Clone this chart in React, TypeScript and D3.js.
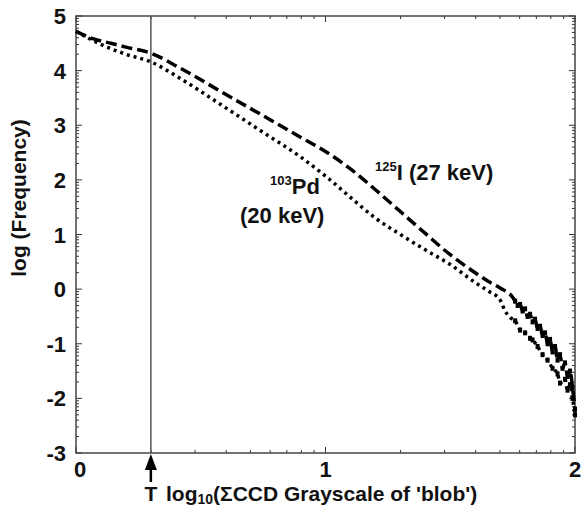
import React from "react";
import * as d3 from "d3";

const iodineX = [0, 0.07, 0.14, 0.2, 0.3, 0.42, 0.58, 0.74, 0.9, 1.0, 1.1, 1.2, 1.3, 1.4, 1.5, 1.6, 1.65, 1.7, 1.75,
  1.76, 1.77, 1.78, 1.79, 1.8, 1.81, 1.82, 1.83, 1.84, 1.85, 1.86, 1.87, 1.88, 1.89, 1.9, 1.91, 1.92, 1.93, 1.94, 1.95, 1.96, 1.97, 1.98, 1.99, 2.0];
const iodineY = [4.72, 4.58, 4.5, 4.43, 4.32, 4.04, 3.62, 3.2, 2.78, 2.52, 2.2, 1.82, 1.42, 1.02, 0.63, 0.3, 0.15, 0.02, -0.15,
  -0.22, -0.3, -0.28, -0.4, -0.36, -0.5, -0.46, -0.6, -0.55, -0.72, -0.68, -0.85, -0.8, -1.0, -0.92, -1.15, -1.05, -1.3, -1.2, -1.45, -1.35, -1.6, -1.5, -1.8, -2.2];

const palladiumX = [0, 0.1, 0.2, 0.3, 0.42, 0.58, 0.74, 0.9, 1.0, 1.1, 1.2, 1.3, 1.4, 1.5, 1.6, 1.65, 1.7,
  1.72, 1.74, 1.76, 1.78, 1.8, 1.82, 1.83, 1.85, 1.87, 1.89, 1.91, 1.93, 1.94, 1.96, 1.97, 1.98, 1.99, 2.0];
const palladiumY = [4.72, 4.48, 4.3, 4.16, 3.85, 3.38, 2.9, 2.42, 2.07, 1.68, 1.3, 1.0, 0.72, 0.45, 0.12, -0.03, -0.2,
  -0.4, -0.52, -0.58, -0.75, -0.8, -0.9, -0.93, -1.05, -1.2, -1.3, -1.45, -1.55, -1.72, -1.65, -1.85, -1.75, -2.0, -2.3];

const xMajor = [0, 1, 2];
const yMajor = [5, 4, 3, 2, 1, 0, -1, -2, -3];
const thresholdX = 0.3;
const tailStart = 1.76;

const W = 584, H = 506;
const left = 76, right = 575, top = 16, bottom = 453;
const FONT = "'Liberation Sans', Arial, sans-serif";

export default function App() {
  const x = d3.scaleLinear().domain([0, 2]).range([left, right]);
  const y = d3.scaleLinear().domain([-3, 5]).range([bottom, top]);

  const minorX: number[] = [];
  for (let d = 0; d < 2; d++) for (let m = 2; m <= 9; m++) minorX.push(d + Math.log10(m));
  const minorY: number[] = [];
  for (let d = -3; d < 5; d++) for (let m = 2; m <= 9; m++) minorY.push(d + Math.log10(m));

  const line = d3.line<[number, number]>().x(d => x(d[0])).y(d => y(d[1])).curve(d3.curveMonotoneX);
  const iData = iodineX.map((v, i) => [v, iodineY[i]] as [number, number]);
  const pData = palladiumX.map((v, i) => [v, palladiumY[i]] as [number, number]);
  const tail = [...iData, ...pData].filter(d => d[0] >= tailStart);

  const tx = x(thresholdX);

  return (
    <svg width={W} height={H} style={{ position: "absolute", left: 0, top: 0, background: "#fff" }}>
      <rect x={0} y={0} width={W} height={H} fill="#fff" />
      {minorX.map((v, i) => (
        <g key={"mx" + i} stroke="#333" strokeWidth={1}>
          <line x1={x(v)} x2={x(v)} y1={bottom} y2={bottom - 3} />
          <line x1={x(v)} x2={x(v)} y1={top} y2={top + 3} />
        </g>
      ))}
      {minorY.map((v, i) => (
        <g key={"my" + i} stroke="#333" strokeWidth={1}>
          <line x1={left} x2={left + 3} y1={y(v)} y2={y(v)} />
          <line x1={right} x2={right - 3} y1={y(v)} y2={y(v)} />
        </g>
      ))}
      {xMajor.map((v) => (
        <g key={"Mx" + v} stroke="#333" strokeWidth={1}>
          <line x1={x(v)} x2={x(v)} y1={bottom} y2={bottom - 6} />
          <line x1={x(v)} x2={x(v)} y1={top} y2={top + 6} />
        </g>
      ))}
      {yMajor.map((v) => (
        <g key={"My" + v} stroke="#333" strokeWidth={1}>
          <line x1={left} x2={left + 6} y1={y(v)} y2={y(v)} />
          <line x1={right} x2={right - 6} y1={y(v)} y2={y(v)} />
        </g>
      ))}
      <rect x={left} y={top} width={right - left} height={bottom - top} fill="none" stroke="#444" strokeWidth={1.5} />
      <line x1={tx} x2={tx} y1={top} y2={bottom} stroke="#555" strokeWidth={1.5} />
      <path d={line(iData) || ""} fill="none" stroke="#000" strokeWidth={3.5} strokeDasharray="11,5" />
      <path d={line(pData) || ""} fill="none" stroke="#000" strokeWidth={3.5} strokeDasharray="3,4" />
      {tail.map((d, i) => (
        <rect key={"t" + i} x={x(d[0]) - 2} y={y(d[1]) - 2.5} width={4} height={5} fill="#000" />
      ))}
      {yMajor.map((v) => (
        <text key={"yl" + v} x={66} y={y(v) + 8} textAnchor="end" fontFamily={FONT} fontWeight="bold" fontSize={22} fill="#111">
          {v}
        </text>
      ))}
      {xMajor.map((v) => (
        <text key={"xl" + v} x={x(v) + (v === 0 ? 4 : 0)} y={477} textAnchor="middle" fontFamily={FONT} fontWeight="bold" fontSize={22} fill="#111">
          {v}
        </text>
      ))}
      <line x1={tx} x2={tx} y1={465} y2={482} stroke="#000" strokeWidth={2.5} />
      <path d={`M${tx},${bottom + 1} L${tx - 6},${bottom + 17} L${tx + 6},${bottom + 17} Z`} fill="#000" />
      <text x={tx} y={501} textAnchor="middle" fontFamily={FONT} fontWeight="bold" fontSize={21} fill="#111">T</text>
      <text x={166} y={501} fontFamily={FONT} fontWeight="bold" fontSize={21} fill="#111">
        log<tspan fontSize={14} dy={3}>10</tspan><tspan dy={-3}>(ΣCCD Grayscale of 'blob')</tspan>
      </text>
      <text transform={`translate(26,198) rotate(-90)`} textAnchor="middle" fontFamily={FONT} fontWeight="bold" fontSize={21} fill="#111">
        log (Frequency)
      </text>
      <text x={375} y={180} fontFamily={FONT} fontWeight="bold" fontSize={22} fill="#111">
        <tspan fontSize={13} dy={-9}>125</tspan><tspan dy={9}>I (27 keV)</tspan>
      </text>
      <text x={270} y={194} fontFamily={FONT} fontWeight="bold" fontSize={22} fill="#111">
        <tspan fontSize={13} dy={-9}>103</tspan><tspan dy={9}>Pd</tspan>
      </text>
      <text x={240} y={223} fontFamily={FONT} fontWeight="bold" fontSize={22} fill="#111">(20 keV)</text>
    </svg>
  );
}
